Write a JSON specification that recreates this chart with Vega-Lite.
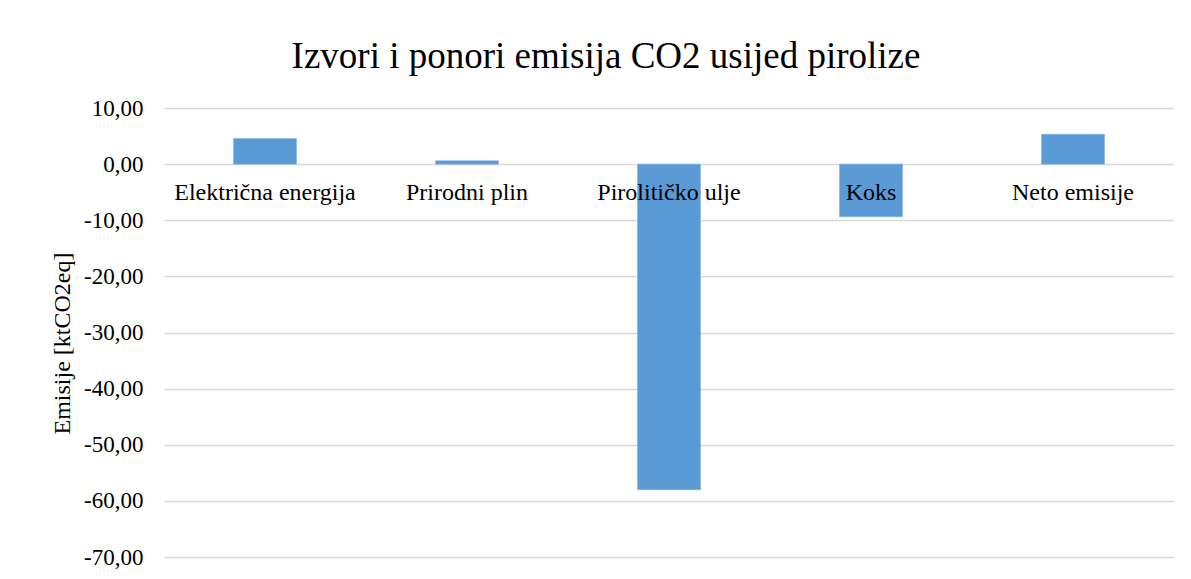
{
  "$schema": "https://vega.github.io/schema/vega-lite/v6.json",
  "autosize": "none",
  "width": 1010,
  "height": 449,
  "padding": {"left": 164, "top": 108, "right": 17, "bottom": 22},
  "background": "white",
  "config": {
    "view": {"stroke": null},
    "font": "Liberation Serif"
  },
  "title": {
    "text": "Izvori i ponori emisija CO2 usijed pirolize",
    "font": "Liberation Serif",
    "fontSize": 37,
    "fontWeight": "normal",
    "color": "#000000",
    "anchor": "middle",
    "baseline": "middle",
    "offset": 3,
    "dx": -63
  },
  "data": {
    "values": [
      {"kategorija": "Električna energija", "emisije": 4.56},
      {"kategorija": "Prirodni plin", "emisije": 0.6},
      {"kategorija": "Pirolitičko ulje", "emisije": -58.0},
      {"kategorija": "Koks", "emisije": -9.38},
      {"kategorija": "Neto emisije", "emisije": 5.34}
    ]
  },
  "layer": [
    {
      "mark": {"type": "bar", "color": "#5b9bd5", "stroke": "#7aaee0", "strokeWidth": 0.5},
      "encoding": {
        "x": {
          "field": "kategorija",
          "type": "nominal",
          "sort": null,
          "scale": {"paddingInner": 0.688, "paddingOuter": 0.344},
          "axis": null
        },
        "y": {
          "field": "emisije",
          "type": "quantitative",
          "scale": {"domain": [-70, 10], "nice": false, "zero": true},
          "axis": {
            "values": [10, 0, -10, -20, -30, -40, -50, -60, -70],
            "labelExpr": "replace(replace(format(datum.value, '.2f'), '.', ','), '\u2212', '-')",
            "labelFont": "Liberation Serif",
            "labelFontSize": 23,
            "labelColor": "#000000",
            "labelPadding": 21,
            "ticks": false,
            "domain": false,
            "grid": true,
            "gridColor": "#d9d9d9",
            "gridWidth": 1.5,
            "title": "Emisije [ktCO2eq]",
            "titleFont": "Liberation Serif",
            "titleFontSize": 24,
            "titleFontWeight": "normal",
            "titleColor": "#000000",
            "titleAngle": 270,
            "titleAlign": "center",
            "titleBaseline": "middle",
            "titleX": -102,
            "titleY": 235
          }
        }
      }
    },
    {
      "mark": {"type": "text", "font": "Liberation Serif", "fontSize": 24, "color": "#000000", "baseline": "middle", "dy": 29},
      "encoding": {
        "x": {"field": "kategorija", "type": "nominal", "sort": null},
        "y": {"datum": 0},
        "text": {"field": "kategorija"}
      }
    }
  ]
}
